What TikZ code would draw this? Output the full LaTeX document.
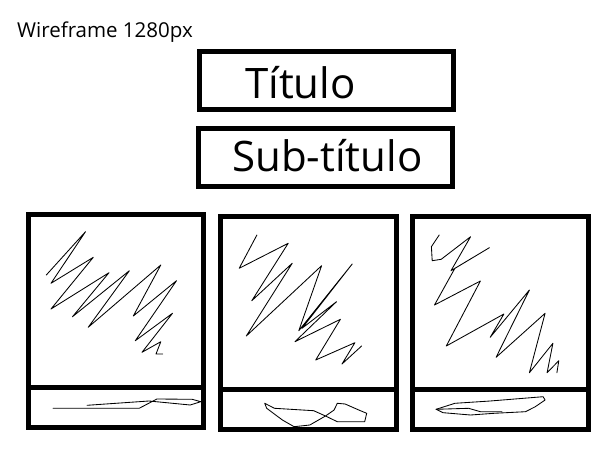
\documentclass[tikz,border=0pt]{standalone}
\usepackage{fontspec}
\setmainfont{Open Sans}
\begin{document}
\begin{tikzpicture}[x=1pt,y=-1pt,
  frame/.style={draw=black,line width=5pt,line join=miter,inner sep=0pt,outer sep=0pt},
  scribble/.style={draw=black,line width=0.85pt,line join=round,line cap=round},
  bigtext/.style={font=\fontsize{42}{44}\selectfont,inner sep=0pt,anchor=base west},
  smalltext/.style={font=\fontsize{20.5}{22}\selectfont,inner sep=0pt,anchor=base west}]
\useasboundingbox[fill=white] (0,0) rectangle (614,460);

\node[smalltext] (wf) at (17,37.3) {Wireframe 1280px};

% title and subtitle boxes
\node[frame,minimum width=254pt,minimum height=58pt] (title) at (326.5,81) {};
\node[bigtext] (titlelbl) at (245,98.3) {Título};
\node[frame,minimum width=254pt,minimum height=58.5pt] (subtitle) at (325.5,157.7) {};
\node[bigtext] (subtitlelbl) at (232,171.7) {Sub-título};

% panels
\node[frame,minimum width=175.4pt,minimum height=172.7pt] (p1) at (115.7,301.2) {};
\node[frame,minimum width=175.4pt,minimum height=40pt] (p1b) at (115.7,407.5) {};
\node[frame,minimum width=175.8pt,minimum height=173pt] (p2) at (308.8,303.3) {};
\node[frame,minimum width=175.8pt,minimum height=39.4pt] (p2b) at (308.8,409.5) {};
\node[frame,minimum width=176.2pt,minimum height=173pt] (p3) at (500.4,303.3) {};
\node[frame,minimum width=176.2pt,minimum height=39.4pt] (p3b) at (500.4,409.5) {};

% scribbles panel 1
\draw[scribble] (46.3,275) -- (85.5,231.7) -- (51,283.3) -- (93.3,257.3) -- (51,309)
  -- (109,272.7) -- (72.5,316.7) -- (129.4,270.7) -- (88.2,327.3) -- (160.8,265)
  -- (133.3,316) -- (176.5,280.7) -- (135.3,340.7) -- (172.5,313.3) -- (142,352.3)
  -- (160.8,341.7) -- (156,354) -- (162.7,354);
\draw[scribble] (53,408.3) -- (139.2,408.3) -- (156.9,399) -- (192.2,399.3) -- (200.8,401.7)
  -- (190.2,405) -- (149,401) -- (87,405.3);

% scribbles panel 2
\draw[scribble] (256.9,235) -- (239.2,268.3) -- (288.2,243.3) -- (251.8,300.7) -- (292.2,263.3)
  -- (246.3,336) -- (321.6,265.7) -- (298.8,330.7) -- (352.2,264) -- (302,328.3)
  -- (336.5,301.7) -- (294.9,341.7) -- (340.4,319.3) -- (315.7,360) -- (354.9,342.7)
  -- (342,364) -- (361.6,346);
\draw[scribble] (264.7,403.3) -- (274.5,408.3) -- (313.7,410.7) -- (325.5,416) -- (337.3,421.7)
  -- (364.7,421.7) -- (366.7,413.3) -- (358.8,410) -- (345.1,404) -- (337.3,403.3)
  -- (334.1,410) -- (325.5,416) -- (309.8,425) -- (294.1,426.7) -- (282.4,420) -- (266.7,408.3) -- cycle;

% scribbles panel 3
\draw[scribble] (439.2,235) -- (431.4,246.7) -- (432.2,260.7) -- (441.2,259.3) -- (470.6,236.7)
  -- (451,270.7) -- (489.4,247.7) -- (454.9,268.3) -- (434.5,305) -- (480.4,281)
  -- (446.3,346) -- (503.9,314) -- (490.2,337.3) -- (529.4,290) -- (496.1,357.3)
  -- (545.1,313.3) -- (529.4,372.7) -- (552.9,343.3) -- (547.1,372.7) -- (558.8,360.7) -- (556.9,372.7);
\draw[scribble] (436.1,409.3) -- (454.9,403.3) -- (490.2,401) -- (543.1,396.7) -- (545.1,400)
  -- (535.3,406.7) -- (525.5,411.7) -- (494.1,413.3) -- (470.6,415) -- (443.1,412.7) -- cycle;
\draw[scribble] (436.1,409.3) -- (468.6,408.3) -- (480.4,411.7) -- (502,411.7);
\end{tikzpicture}
\end{document}
